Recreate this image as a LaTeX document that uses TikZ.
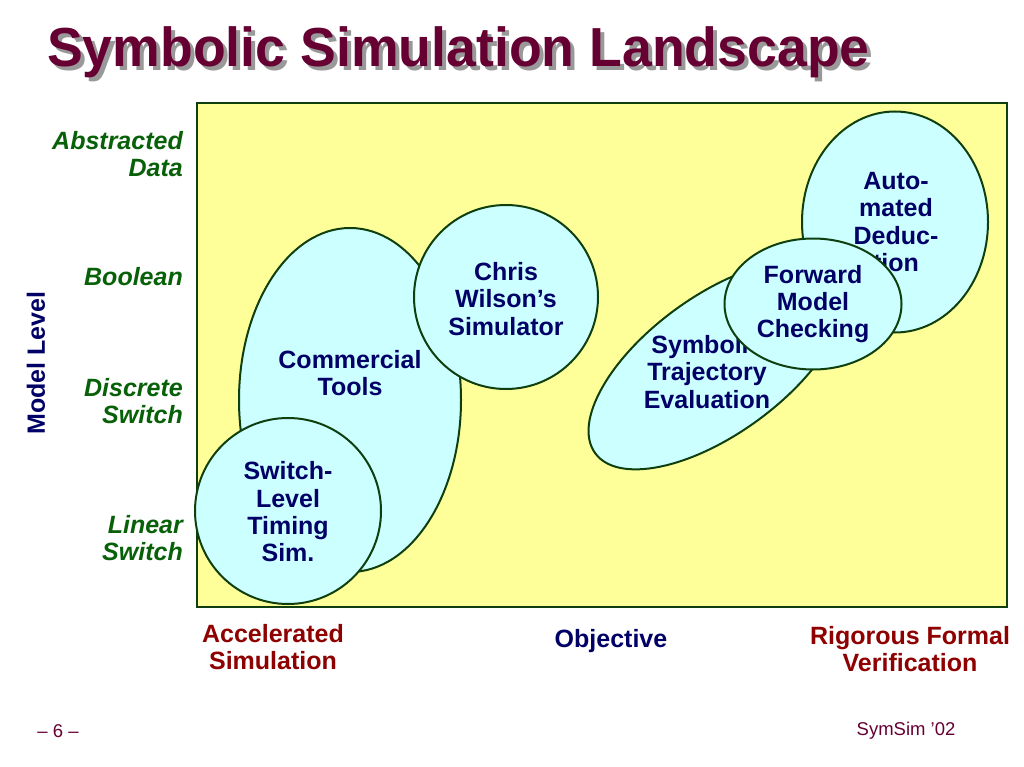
\documentclass[tikz,border=0pt]{standalone}
\usepackage{fontspec}
\setmainfont{Liberation Sans}
\usetikzlibrary{shapes.geometric}
\definecolor{maroon}{HTML}{660033}
\definecolor{panel}{HTML}{FFFF99}
\definecolor{edge}{HTML}{0F3F0F}
\definecolor{blob}{HTML}{CCFFFF}
\definecolor{navy}{HTML}{000066}
\definecolor{lvl}{HTML}{086008}
\definecolor{obj}{HTML}{8F0000}
\tikzset{
  blobshape/.style={ellipse, draw=edge, line width=2pt, fill=blob, inner sep=0pt},
  blobtext/.style={align=center, text=navy, font=\fontsize{25}{27.3}\selectfont\bfseries, inner sep=0pt},
  lvltext/.style={align=right, anchor=east, text=lvl, font=\fontsize{25}{27.3}\selectfont\bfseries\itshape, inner sep=0pt},
  objtext/.style={align=center, text=obj, font=\fontsize{25}{27.3}\selectfont\bfseries, inner sep=0pt},
  foot/.style={text=maroon, font=\fontsize{18.5}{20}\selectfont, inner sep=0pt},
  titletext/.style={font=\fontsize{55}{60}\selectfont\bfseries, inner sep=0pt, anchor=base west, xscale=0.975}
}
\begin{document}
\begin{tikzpicture}[x=1pt,y=-1pt]
\useasboundingbox (0,0) rectangle (1024,767);
\fill[white] (0,0) rectangle (1024,767);
% title with shadow
\node[titletext, text=black!40] (titleshadow) at (51,71) {Symbolic Simulation Landscape};
\node[titletext, text=maroon] (title) at (47,67) {Symbolic Simulation Landscape};
% panel
\node[draw=edge, line width=2pt, fill=panel, minimum width=810pt, minimum height=504pt, inner sep=0pt, anchor=north west] (panelbox) at (196,102) {};
% left group
\node[blobshape, minimum width=222pt, minimum height=344pt] (comm) at (350,400) {};
\node[blobtext] (commtext) at (350,373) {Commercial\\Tools};
\node[blobshape, circle, minimum size=184pt] (chris) at (506,297) {};
\node[blobtext] (christext) at (506,299) {Chris\\Wilson’s\\Simulator};
\node[blobshape, circle, minimum size=186pt] (swl) at (288,511) {};
\node[blobtext] (swltext) at (288,512) {Switch-\\Level\\Timing\\Sim.};
% right group
\node[blobshape, rotate=36, minimum width=300pt, minimum height=138pt] (ste) at (716.5,365) {};
\node[blobtext] (stetext) at (707,372) {Symbolic\\Trajectory\\Evaluation};
\node[blobshape, minimum width=186pt, minimum height=221pt] (ad) at (895,222) {};
\node[blobtext] (adtext) at (896,222) {Auto-\\mated\\Deduc-\\tion};
\node[blobshape, minimum width=177pt, minimum height=131pt] (fmc) at (813,304) {};
\node[blobtext] (fmctext) at (813,304) {Forward\\Model\\Checking};
% level labels
\node[lvltext] (l1) at (183,154) {Abstracted\\Data};
\node[lvltext] (l2) at (183,277) {Boolean};
\node[lvltext] (l3) at (183,401) {Discrete\\Switch};
\node[lvltext] (l4) at (183,538) {Linear\\Switch};
\node[text=navy, font=\fontsize{25}{27}\selectfont\bfseries, rotate=90, inner sep=0pt] (ml) at (36,363) {Model Level};
% bottom labels
\node[objtext] (acc) at (273,647) {Accelerated\\Simulation};
\node[text=navy, font=\fontsize{25}{27}\selectfont\bfseries, inner sep=0pt] (objective) at (611,641) {Objective};
\node[objtext] (rig) at (910,649) {Rigorous Formal\\Verification};
% footer
\node[foot] (pg) at (58,731) {– 6 –};
\node[foot] (sym) at (906,731) {SymSim ’02};
\end{tikzpicture}
\end{document}
